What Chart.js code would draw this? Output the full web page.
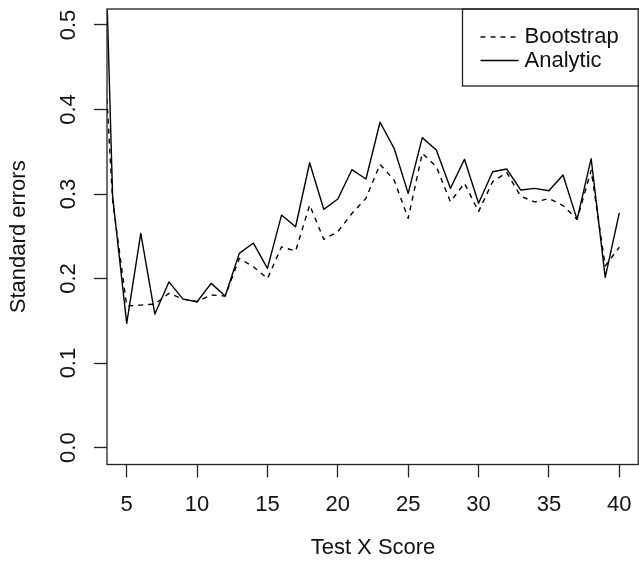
<!DOCTYPE html>
<html>
<head>
<meta charset="utf-8">
<title>Standard errors by test score</title>
<script src="https://cdn.jsdelivr.net/npm/chart.js@4.4.1/dist/chart.umd.min.js"></script>
<style>
  html, body { margin: 0; padding: 0; background: #fff; }
  #wrap { width: 639px; height: 563px; }
</style>
</head>
<body>
<div id="wrap"><canvas id="seChart"></canvas></div>
<script>
// Test X scores and the two standard error estimates at each score
const scores = [3, 4, 5, 6, 7, 8, 9, 10, 11, 12, 13, 14, 15, 16, 17, 18, 19, 20, 21,
  22, 23, 24, 25, 26, 27, 28, 29, 30, 31, 32, 33, 34, 35, 36, 37, 38, 39, 40];

const bootstrapSE = [0.59, 0.292, 0.1675, 0.1686, 0.1698, 0.1825, 0.1757, 0.1725, 0.1805,
  0.1793, 0.2239, 0.214, 0.1999, 0.2375, 0.2325, 0.287, 0.2464, 0.2554, 0.277, 0.2949,
  0.3351, 0.3166, 0.2712, 0.3482, 0.3323, 0.2909, 0.3127, 0.2792, 0.3146, 0.3254, 0.2973,
  0.2906, 0.2946, 0.2864, 0.27, 0.328, 0.215, 0.237];

const analyticSE = [0.88, 0.297, 0.147, 0.2535, 0.158, 0.196, 0.1757, 0.1725, 0.1943,
  0.1793, 0.2298, 0.242, 0.2121, 0.2751, 0.2613, 0.337, 0.2819, 0.2941, 0.3288, 0.3178,
  0.3849, 0.3541, 0.3008, 0.3667, 0.3521, 0.3067, 0.3411, 0.289, 0.3264, 0.3296, 0.3047,
  0.3067, 0.3039, 0.3225, 0.27, 0.3418, 0.2014, 0.2778];

const seriesNames = ['Bootstrap', 'Analytic'];
const xTicks = [5, 10, 15, 20, 25, 30, 35, 40];
const yTicks = [0, 0.1, 0.2, 0.3, 0.4, 0.5];
const yTickLabels = ['0.0', '0.1', '0.2', '0.3', '0.4', '0.5'];

const FONT = '"Liberation Sans", Arial, Helvetica, sans-serif';
const INK = '#111';

const toPoints = (vals) => scores.map((s, i) => ({ x: s, y: vals[i] }));

// plot frame, rotated y labels and the boxed legend, drawn the way base R does
const framePlugin = {
  id: 'frame',
  afterDraw(chart) {
    const { ctx, chartArea: a, scales: { y } } = chart;
    ctx.save();
    ctx.strokeStyle = '#222';
    ctx.lineWidth = 1.3;
    ctx.strokeRect(a.left, a.top, a.right - 0.8 - a.left, a.bottom - a.top);

    ctx.fillStyle = INK;
    ctx.font = '22px ' + FONT;
    ctx.textAlign = 'center';
    ctx.textBaseline = 'middle';
    yTicks.forEach((v, i) => {
      ctx.save();
      ctx.translate(68.5, y.getPixelForValue(v));
      ctx.rotate(-Math.PI / 2);
      ctx.fillText(yTickLabels[i], 0, 0);
      ctx.restore();
    });

    // legend box in the top right corner
    const lx = a.right - 176.5;
    ctx.strokeRect(lx, a.top, a.right + 6 - lx, 86 - a.top);
    const rows = [37, 60.5];
    ctx.textAlign = 'left';
    chart.data.datasets.forEach((ds, i) => {
      ctx.strokeStyle = ds.borderColor;
      ctx.lineWidth = ds.borderWidth;
      ctx.setLineDash(ds.borderDash || []);
      ctx.beginPath();
      ctx.moveTo(lx + 18, rows[i]);
      ctx.lineTo(lx + 56, rows[i]);
      ctx.stroke();
      ctx.setLineDash([]);
      ctx.fillText(ds.label, lx + 62, rows[i]);
    });
    ctx.restore();
  }
};

const ctx = document.getElementById('seChart').getContext('2d');
new Chart(ctx, {
  type: 'line',
  data: {
    datasets: [
      {
        label: seriesNames[0],
        data: toPoints(bootstrapSE),
        borderColor: '#000',
        borderWidth: 1.4,
        borderDash: [5, 5],
        pointRadius: 0,
        tension: 0,
        clip: 0
      },
      {
        label: seriesNames[1],
        data: toPoints(analyticSE),
        borderColor: '#000',
        borderWidth: 1.4,
        pointRadius: 0,
        tension: 0,
        clip: 0
      }
    ]
  },
  options: {
    responsive: true,
    maintainAspectRatio: false,
    animation: false,
    layout: { padding: { top: 9, right: 0, left: 0, bottom: 0 } },
    elements: { line: { borderJoinStyle: 'round', borderCapStyle: 'butt' } },
    plugins: {
      legend: { display: false },
      tooltip: { enabled: false }
    },
    scales: {
      x: {
        type: 'linear',
        min: 3.6,
        max: 41.4,
        afterBuildTicks: (scale) => { scale.ticks = xTicks.map(v => ({ value: v })); },
        afterFit: (scale) => {
          scale.height = 98.5;
          scale.paddingLeft = 0;
          scale.paddingRight = 0;
        },
        grid: {
          drawOnChartArea: false,
          drawTicks: true,
          tickLength: 13,
          tickColor: '#222',
          tickWidth: 1.3
        },
        border: { display: false },
        ticks: {
          color: INK,
          padding: 14,
          maxRotation: 0,
          autoSkip: false,
          font: { family: FONT, size: 22 },
          callback: (v) => String(v)
        },
        title: {
          display: true,
          text: 'Test X Score',
          color: INK,
          font: { family: FONT, size: 22, lineHeight: 1.2 },
          padding: { top: 0, bottom: 2 }
        }
      },
      y: {
        type: 'linear',
        min: -0.02,
        max: 0.5189,
        afterBuildTicks: (scale) => { scale.ticks = yTicks.map(v => ({ value: v })); },
        afterFit: (scale) => {
          scale.width = 107;
          scale.paddingTop = 0;
          scale.paddingBottom = 0;
        },
        grid: {
          drawOnChartArea: false,
          drawTicks: true,
          tickLength: 13,
          tickColor: '#222',
          tickWidth: 1.3
        },
        border: { display: false },
        ticks: { display: false },
        title: {
          display: true,
          text: 'Standard errors',
          color: INK,
          font: { family: FONT, size: 22, lineHeight: 1.2 },
          padding: { top: 6, bottom: 0 }
        }
      }
    }
  },
  plugins: [framePlugin]
});
</script>
</body>
</html>
